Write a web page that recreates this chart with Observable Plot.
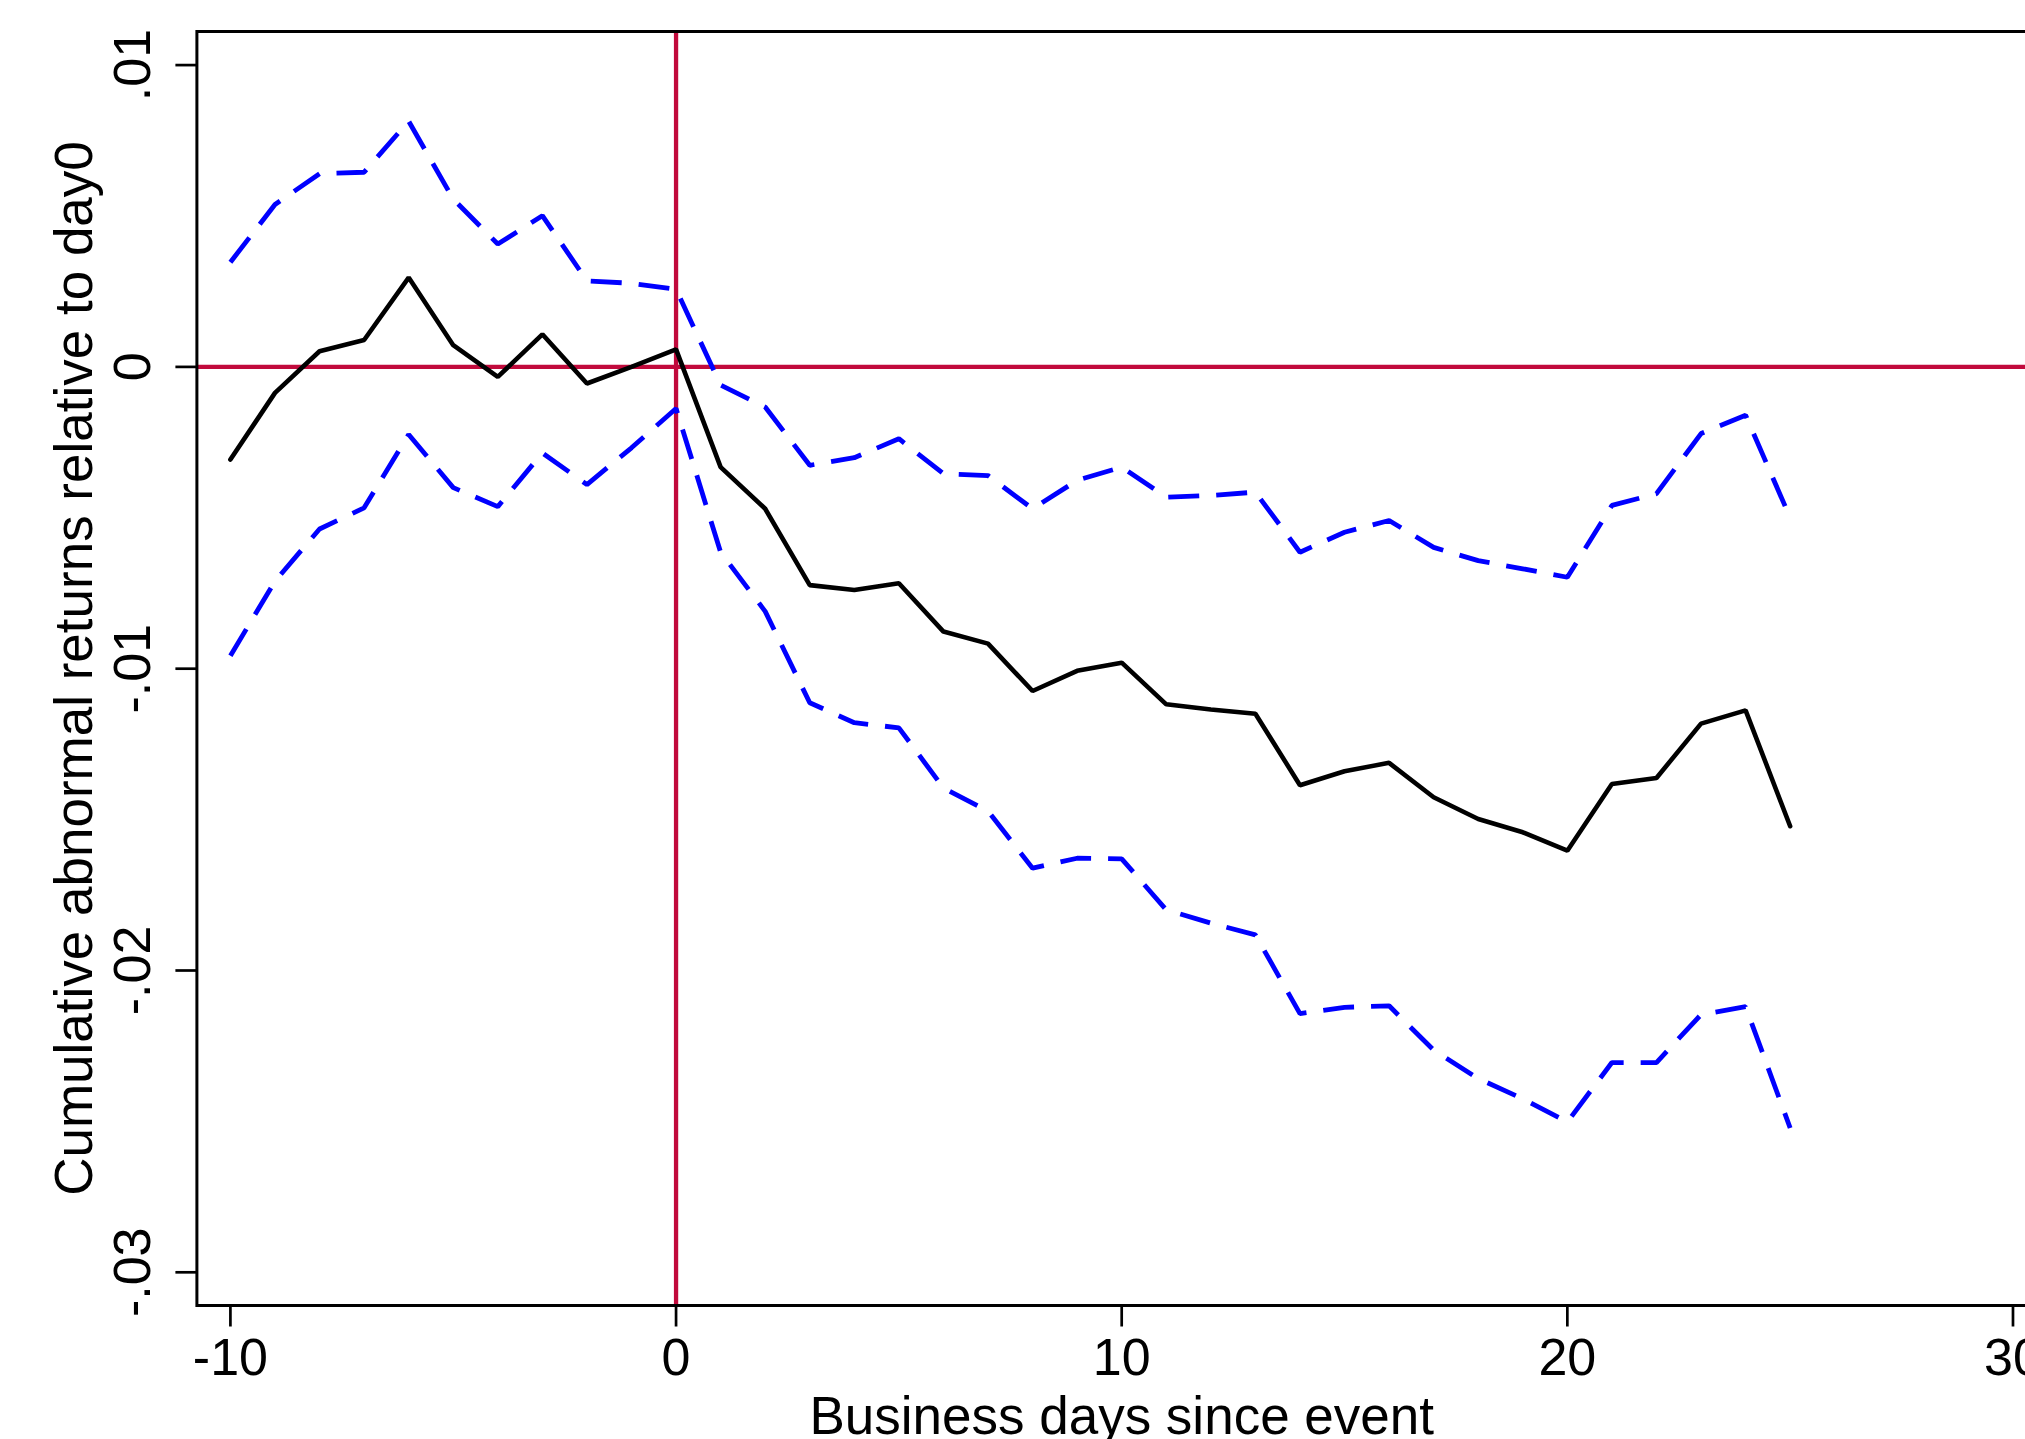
<!DOCTYPE html>
<html>
<head>
<meta charset="utf-8">
<script src="https://cdn.jsdelivr.net/npm/d3@7"></script>
<script src="https://cdn.jsdelivr.net/npm/@observablehq/plot@0.6"></script>
<style>
  html, body { margin: 0; padding: 0; background: #fff; }
  #chart { width: 2025px; height: 1439px; overflow: hidden; }
  #chart svg { overflow: hidden; }
</style>
</head>
<body>
<div id="chart"></div>
<script>
const days = [-10,-9,-8,-7,-6,-5,-4,-3,-2,-1,0,1,2,3,4,5,6,7,8,9,10,11,12,13,14,15,16,17,18,19,20,21,22,23,24,25];
const car = [-0.00307,-0.00086,0.00052,0.00089,0.00296,0.00072,-0.00033,0.00108,-0.00055,0.00000,0.00058,
  -0.00332,-0.00470,-0.00723,-0.00739,-0.00717,-0.00877,-0.00917,-0.01074,-0.01007,-0.00980,
  -0.01118,-0.01135,-0.01149,-0.01386,-0.01340,-0.01312,-0.01426,-0.01498,-0.01542,-0.01603,
  -0.01382,-0.01362,-0.01182,-0.01138,-0.01522];
const upper = [0.00347,0.00538,0.00640,0.00645,0.00814,0.00556,0.00407,0.00501,0.00285,0.00277,0.00257,
  -0.00060,-0.00133,-0.00326,-0.00301,-0.00238,-0.00354,-0.00360,-0.00470,-0.00376,-0.00332,
  -0.00432,-0.00426,-0.00415,-0.00614,-0.00548,-0.00509,-0.00598,-0.00642,-0.00669,-0.00697,
  -0.00459,-0.00420,-0.00221,-0.00160,-0.00500];
const lower = [-0.00957,-0.00710,-0.00537,-0.00467,-0.00224,-0.00400,-0.00463,-0.00285,-0.00390,-0.00268,-0.00138,
  -0.00614,-0.00810,-0.01113,-0.01179,-0.01196,-0.01395,-0.01472,-0.01661,-0.01628,-0.01630,
  -0.01799,-0.01843,-0.01882,-0.02143,-0.02122,-0.02117,-0.02264,-0.02358,-0.02425,-0.02502,
  -0.02305,-0.02305,-0.02146,-0.02120,-0.02522];
const xTicks = [-10, 0, 10, 20, 30];
const yTicks = [-0.03, -0.02, -0.01, 0, 0.01];
const refX = [0];
const refY = [0];
const xTitle = "Business days since event";
const yTitle = "Cumulative abnormal returns relative to day0";

const rows = days.map((d, i) => ({day: d, car: car[i], upper: upper[i], lower: lower[i]}));
const fmtY = v => v === 0 ? "0" : (v < 0 ? "-" : "") + String(Math.abs(v)).replace(/^0/, "");
const red = "#c10a3c";
const font = "'Liberation Sans', Arial, Helvetica, sans-serif";

const chart = Plot.plot({
  width: 2025,
  height: 1439,
  marginLeft: 196.4,
  marginRight: -21,
  marginTop: 31,
  marginBottom: 134,
  style: {fontFamily: font, background: "#fff", color: "#000"},
  x: {domain: [-10.752, 30.752]},
  y: {domain: [-0.0311, 0.011113]},
  marks: [
    Plot.ruleY(refY, {y: d => d, stroke: red, strokeWidth: 4.3}),
    Plot.ruleX(refX, {x: d => d, stroke: red, strokeWidth: 4.3}),
    Plot.line(rows, {x: "day", y: "upper", stroke: "#0000ff", strokeWidth: 4.8, strokeDasharray: "31,17", strokeLinecap: "butt", strokeLinejoin: "miter"}),
    Plot.line(rows, {x: "day", y: "lower", stroke: "#0000ff", strokeWidth: 4.8, strokeDasharray: "31,17", strokeLinecap: "butt", strokeLinejoin: "miter"}),
    Plot.line(rows, {x: "day", y: "car", stroke: "#000", strokeWidth: 4.6, strokeLinejoin: "miter"}),
    Plot.frame({stroke: "#000", strokeWidth: 3}),
    Plot.axisX({ticks: xTicks, tickSize: 21.5, tickPadding: 11.5, tickFormat: d => String(d), fontSize: 52, strokeWidth: 2.7, label: null}),
    Plot.axisY({ticks: yTicks, tickSize: 21, tickPadding: 25.5, tickRotate: -90, tickFormat: fmtY, fontSize: 52, strokeWidth: 2.7, label: null}),
    Plot.text([xTitle], {text: d => d, frameAnchor: "bottom", dy: 128, lineAnchor: "bottom", textAnchor: "middle", fontSize: 53}),
    Plot.text([yTitle], {text: d => d, frameAnchor: "left", dx: -104.9, rotate: -90, lineAnchor: "bottom", textAnchor: "middle", fontSize: 53})
  ]
});
document.getElementById("chart").appendChild(chart);
</script>
</body>
</html>
